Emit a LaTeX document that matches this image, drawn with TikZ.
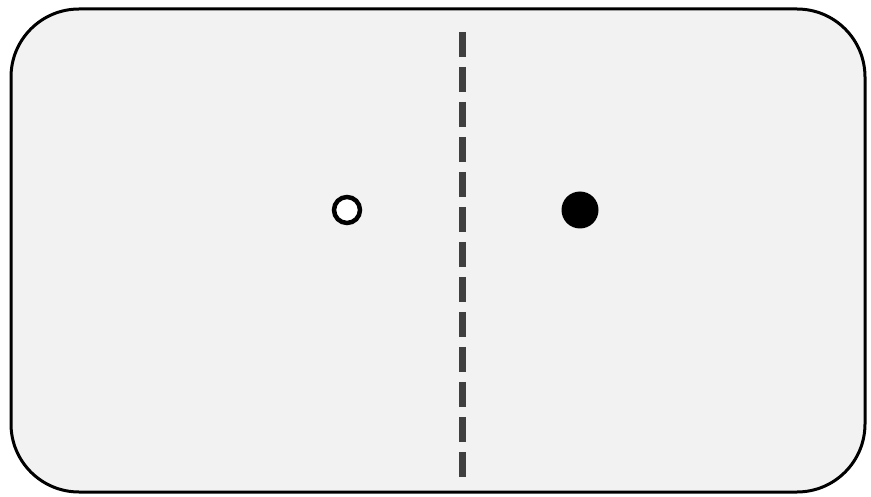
\documentclass[tikz,border=0pt]{standalone}
\usepackage{xcolor}
\usepackage{tikz}
\usetikzlibrary{positioning, calc}

\definecolor{panelgray}{HTML}{F2F2F2}
\definecolor{dividergray}{HTML}{404040}

\begin{document}
\begin{tikzpicture}[
    x=1pt, y=-1pt,
    panel/.style   = {draw=black, line width=3pt, fill=panelgray,
                      rounded corners=68pt},
    divider/.style = {draw=dividergray, line width=7pt,
                      dash pattern=on 25pt off 10pt},
    hollow/.style  = {circle, draw=black, line width=4.5pt, fill=white,
                      minimum size=26pt, inner sep=0pt},
    solid/.style   = {circle, fill=black, minimum size=37pt, inner sep=0pt}
]

\useasboundingbox (0,0) rectangle (871,497);

% ========= panel =========
\draw[panel] (11,9) rectangle (865,492);

% ========= divider =========
\coordinate (divtop) at (462,32);
\coordinate (divbot) at (462,483);
\draw[divider] (divtop) -- (divbot);

% ========= points =========
\node[hollow] (open)   at (347,210) {};
\node[solid]  (closed) at (580,210) {};

\end{tikzpicture}
\end{document}
